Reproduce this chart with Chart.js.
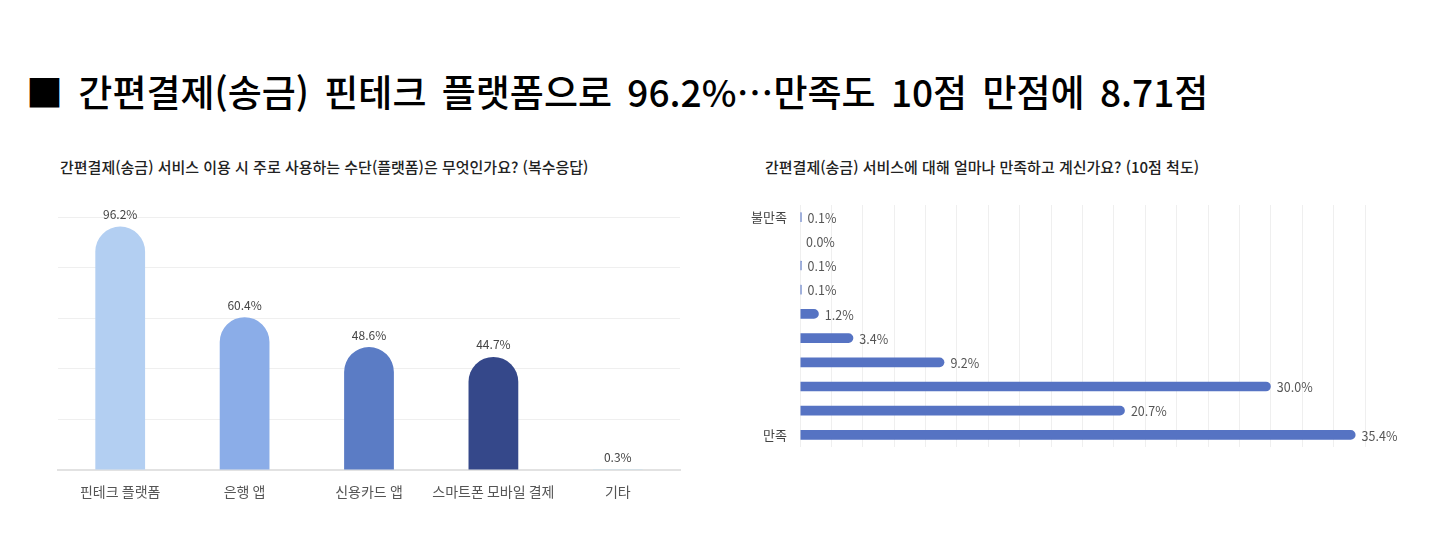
<!DOCTYPE html>
<html lang="ko">
<head>
<meta charset="utf-8">
<script src="https://cdn.jsdelivr.net/npm/chart.js@4.4.1/dist/chart.umd.min.js"></script>
<style>
  html, body { margin:0; padding:0; background:#fff; width:1440px; height:545px; overflow:hidden; }
  body { position:relative; font-family:"Noto Sans CJK KR","Noto Sans",sans-serif; }
  #title { position:absolute; left:26px; top:64px; font-size:37px; font-weight:500; color:#000; white-space:nowrap; word-spacing:5px; }
  .sub { position:absolute; top:156px; font-size:15px; font-weight:500; color:#222; white-space:nowrap; }
  #subL { left:60px; }
  #subR { left:765px; }
  #boxL { position:absolute; left:50px; top:190px; width:640px; height:320px; }
  #boxR { position:absolute; left:740px; top:195px; width:660px; height:252px; }
</style>
</head>
<body>
<div id="title">■ 간편결제(송금) 핀테크 플랫폼으로 96.2%⋯만족도 10점 만점에 8.71점</div>
<div class="sub" id="subL">간편결제(송금) 서비스 이용 시 주로 사용하는 수단(플랫폼)은 무엇인가요? (복수응답)</div>
<div class="sub" id="subR">간편결제(송금) 서비스에 대해 얼마나 만족하고 계신가요? (10점 척도)</div>
<div id="boxL"><canvas id="chartL"></canvas></div>
<div id="boxR"><canvas id="chartR"></canvas></div>
<script>
// ---- data ----
const platformCategories = ['핀테크 플랫폼', '은행 앱', '신용카드 앱', '스마트폰 모바일 결제', '기타'];
const platformValues = [96.2, 60.4, 48.6, 44.7, 0.3];
const platformTicks = [0, 20, 40, 60, 80, 100];

const satisfactionCategories = ['불만족', '', '', '', '', '', '', '', '', '만족'];
const satisfactionValues = [0.1, 0.0, 0.1, 0.1, 1.2, 3.4, 9.2, 30.0, 20.7, 35.4];
const satisfactionTicks = [0, 36, 2];

// ---- styles ----
const platformColors = ['#b3cff2', '#8badE8', '#5b7cc5', '#35488a', '#aedcf3'];
const satisfactionColor = '#5673c3';
const fontFamily = '"Noto Sans CJK KR","Noto Sans",sans-serif';

const valueLabels = {
  id: 'valueLabels',
  afterDatasetsDraw(chart, args, opts) {
    const ctx = chart.ctx;
    const meta = chart.getDatasetMeta(0);
    const data = chart.data.datasets[0].data;
    ctx.save();
    ctx.font = opts.font;
    ctx.fillStyle = opts.color;
    meta.data.forEach((el, i) => {
      const txt = Number(data[i]).toFixed(1) + '%';
      if (opts.horizontal) {
        ctx.textAlign = 'left';
        ctx.textBaseline = 'middle';
        ctx.fillText(txt, el.x + opts.offset, el.y + 1);
      } else {
        ctx.textAlign = 'center';
        ctx.textBaseline = 'bottom';
        ctx.fillText(txt, el.x, el.y - opts.offset);
      }
    });
    ctx.restore();
  }
};

function noScalePadding(scale) {
  scale.paddingTop = 0; scale.paddingBottom = 0;
  scale.paddingLeft = 0; scale.paddingRight = 0;
}

new Chart(document.getElementById('chartL'), {
  type: 'bar',
  data: {
    labels: platformCategories,
    datasets: [{
      data: platformValues,
      backgroundColor: platformColors,
      borderRadius: { topLeft: 30, topRight: 30, bottomLeft: 0, bottomRight: 0 },
      borderSkipped: 'bottom',
      barPercentage: 0.4,
      categoryPercentage: 1.0
    }]
  },
  options: {
    responsive: true,
    maintainAspectRatio: false,
    animation: false,
    layout: { padding: { left: 8, right: 10, top: 27, bottom: 0 } },
    plugins: {
      legend: { display: false },
      tooltip: { enabled: false },
      valueLabels: { font: '12px ' + fontFamily, color: '#444', offset: 6 }
    },
    scales: {
      x: {
        grid: { display: false },
        border: { display: true, color: '#e2e2e2', width: 2 },
        ticks: { color: '#555', font: { size: 14, family: fontFamily }, padding: 5,
                 maxRotation: 0, minRotation: 0, autoSkip: false },
        afterFit(scale) { scale.height = 40; noScalePadding(scale); }
      },
      y: {
        min: platformTicks[0],
        max: platformTicks[platformTicks.length - 1],
        afterBuildTicks(scale) { scale.ticks = platformTicks.map(v => ({ value: v })); },
        ticks: { display: false },
        grid: { color: '#efefef', drawTicks: false },
        border: { display: false },
        afterFit(scale) { scale.width = 0; noScalePadding(scale); }
      }
    }
  },
  plugins: [valueLabels]
});

new Chart(document.getElementById('chartR'), {
  type: 'bar',
  data: {
    labels: satisfactionCategories,
    datasets: [{
      data: satisfactionValues,
      backgroundColor: satisfactionColor,
      borderRadius: 5,
      borderSkipped: 'start',
      barPercentage: 0.4,
      categoryPercentage: 1.0
    }]
  },
  options: {
    indexAxis: 'y',
    responsive: true,
    maintainAspectRatio: false,
    animation: false,
    layout: { padding: { left: 0, right: 35, top: 10, bottom: 0 } },
    plugins: {
      legend: { display: false },
      tooltip: { enabled: false },
      valueLabels: { font: '12.5px ' + fontFamily, color: '#555', offset: 6, horizontal: true }
    },
    scales: {
      x: {
        min: satisfactionTicks[0],
        max: satisfactionTicks[1],
        ticks: { display: false, stepSize: satisfactionTicks[2] },
        grid: { color: '#efefef', drawTicks: false },
        border: { display: true, color: '#e6e6e6' },
        afterFit(scale) { scale.height = 0; noScalePadding(scale); }
      },
      y: {
        grid: { display: false },
        border: { display: false },
        ticks: { color: '#444', font: { size: 13, family: fontFamily }, padding: 5 },
        afterFit(scale) { scale.width = 60; noScalePadding(scale); }
      }
    }
  },
  plugins: [valueLabels]
});
</script>
</body>
</html>
